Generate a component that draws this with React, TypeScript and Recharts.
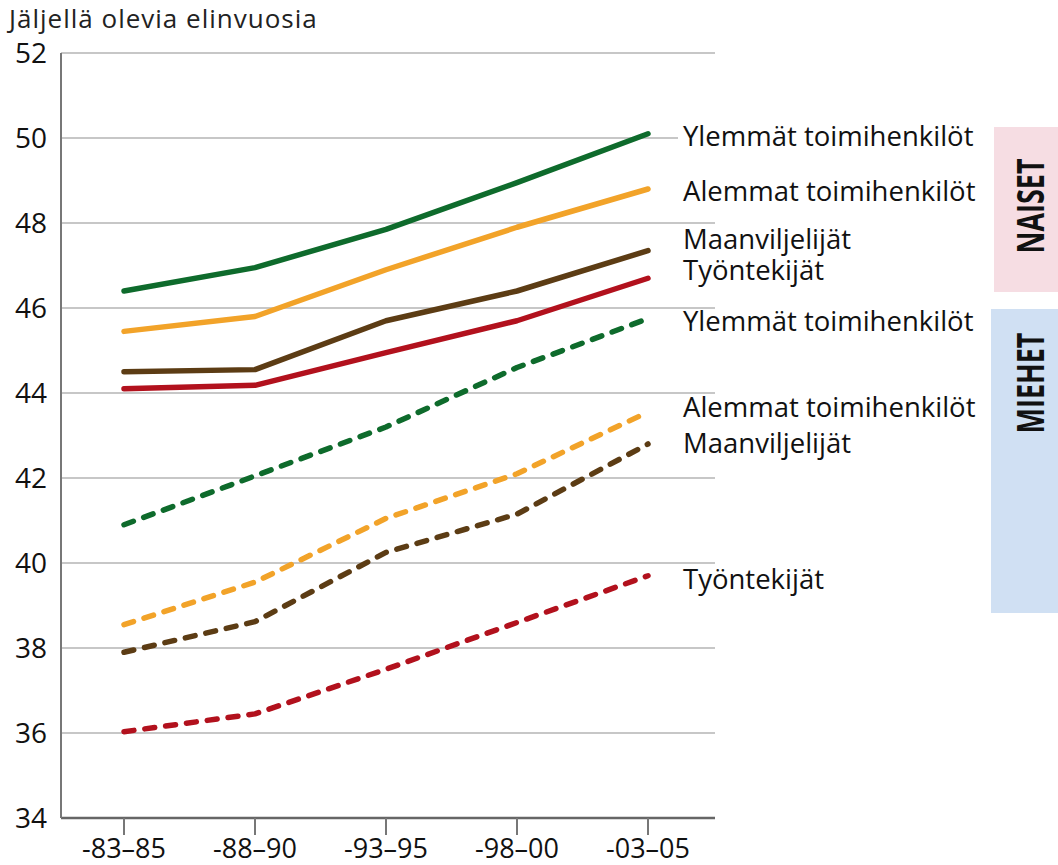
import React from 'react';
import { LineChart, Line, XAxis, YAxis, CartesianGrid } from 'recharts';

// periods on the x axis and y ticks
const PERIODS = ['-83–85', '-88–90', '-93–95', '-98–00', '-03–05'];
const Y_TICKS = [34, 36, 38, 40, 42, 44, 46, 48, 50, 52];

// women (solid)
const NAISET_YLEMMAT = [46.4, 46.95, 47.85, 48.95, 50.1];
const NAISET_ALEMMAT = [45.45, 45.8, 46.9, 47.9, 48.8];
const NAISET_MAANVILJ = [44.5, 44.55, 45.7, 46.4, 47.35];
const NAISET_TYONTEK = [44.1, 44.18, 44.95, 45.7, 46.7];

// men (dashed)
const MIEHET_YLEMMAT = [40.9, 42.05, 43.2, 44.6, 45.75];
const MIEHET_ALEMMAT = [38.55, 39.55, 41.05, 42.1, 43.55];
const MIEHET_MAANVILJ = [37.9, 38.62, 40.25, 41.15, 42.8];
const MIEHET_TYONTEK = [36.03, 36.45, 37.5, 38.6, 39.7];

const GREEN = '#0e6b2c';
const ORANGE = '#f2a329';
const BROWN = '#5c3c14';
const RED = '#b2111d';

const FONT = '"Open Sans", "DejaVu Sans", sans-serif';

const SERIES = [
  { key: 'nYl', name: 'Ylemmät toimihenkilöt', values: NAISET_YLEMMAT, color: GREEN, dashed: false, dy: 2, bg: true },
  { key: 'nAl', name: 'Alemmat toimihenkilöt', values: NAISET_ALEMMAT, color: ORANGE, dashed: false, dy: 1 },
  { key: 'nMa', name: 'Maanviljelijät', values: NAISET_MAANVILJ, color: BROWN, dashed: false, dy: -12 },
  { key: 'nTy', name: 'Työntekijät', values: NAISET_TYONTEK, color: RED, dashed: false, dy: -9 },
  { key: 'mYl', name: 'Ylemmät toimihenkilöt', values: MIEHET_YLEMMAT, color: GREEN, dashed: true, dy: 2 },
  { key: 'mAl', name: 'Alemmat toimihenkilöt', values: MIEHET_ALEMMAT, color: ORANGE, dashed: true, dy: -6 },
  { key: 'mMa', name: 'Maanviljelijät', values: MIEHET_MAANVILJ, color: BROWN, dashed: true, dy: -2 },
  { key: 'mTy', name: 'Työntekijät', values: MIEHET_TYONTEK, color: RED, dashed: true, dy: 3 },
];

const data = PERIODS.map((period, i) => {
  const row: Record<string, string | number> = { period };
  SERIES.forEach((s) => {
    row[s.key] = s.values[i];
  });
  return row;
});

const endLabel = (s: (typeof SERIES)[number]) => (props: any) => {
  const { x, y, index } = props;
  if (index !== PERIODS.length - 1) return null;
  return (
    <g>
      {s.bg && <rect x={x + 30} y={y + s.dy - 14} width={310} height={28} fill="#fff" />}
      <text x={x + 35} y={y + s.dy} dominantBaseline="central" fontSize={27.5} fontFamily={FONT} fill="#111">
        {s.name}
      </text>
    </g>
  );
};

// tall narrow bold word, rotated
const SideWord: React.FC<{ cy: number; label: string }> = ({ cy, label }) => (
  <div
    style={{
      position: 'absolute',
      left: 1029 - 100,
      top: cy - 30,
      width: 200,
      height: 60,
      display: 'flex',
      alignItems: 'center',
      justifyContent: 'center',
      transform: 'rotate(-90deg) scaleX(0.71)',
      fontFamily: FONT,
      fontWeight: 700,
      fontSize: 38,
      color: '#111',
      whiteSpace: 'nowrap',
    }}
  >
    {label}
  </div>
);

export default function App() {
  return (
    <div style={{ position: 'absolute', left: 0, top: 0, width: 1058, height: 865, background: '#fff', overflow: 'hidden' }}>
      <div
        style={{
          position: 'absolute',
          left: 9,
          top: 0,
          fontFamily: FONT,
          fontSize: 26,
          letterSpacing: 1,
          color: '#222',
          whiteSpace: 'nowrap',
        }}
      >
        Jäljellä olevia elinvuosia
      </div>
      <div style={{ position: 'absolute', left: 994, top: 127, width: 64, height: 165, background: '#f6dde3' }} />
      <div style={{ position: 'absolute', left: 991, top: 309, width: 67, height: 304, background: '#d0e0f3' }} />
      <SideWord cy={206} label="NAISET" />
      <SideWord cy={383} label="MIEHET" />
      <div style={{ position: 'absolute', left: 0, top: 0 }}>
        <LineChart width={1058} height={865} data={data} margin={{ top: 53, right: 343, bottom: 0, left: 0 }}>
          <CartesianGrid horizontal vertical={false} stroke="#b4b4b4" strokeWidth={1.6} />
          <XAxis
            dataKey="period"
            type="category"
            padding={{ left: 63, right: 67 }}
            height={47}
            axisLine={{ stroke: '#666', strokeWidth: 2.5 }}
            tickLine={{ stroke: '#777', strokeWidth: 2 }}
            tickSize={17}
            tickMargin={4}
            tick={{ fontSize: 27, fill: '#111', fontFamily: FONT }}
            interval={0}
          />
          <YAxis
            type="number"
            domain={[34, 52]}
            ticks={Y_TICKS}
            width={61}
            axisLine={{ stroke: '#777', strokeWidth: 2 }}
            tickLine={false}
            tickSize={0}
            tickMargin={14}
            tick={{ fontSize: 28, fill: '#111', fontFamily: FONT }}
            interval={0}
          />
          {SERIES.map((s) => (
            <Line
              key={s.key}
              type="linear"
              dataKey={s.key}
              stroke={s.color}
              strokeWidth={5.5}
              strokeLinecap="round"
              strokeLinejoin="round"
              strokeDasharray={s.dashed ? '10 11' : undefined}
              dot={false}
              activeDot={false}
              isAnimationActive={false}
              label={endLabel(s)}
            />
          ))}
        </LineChart>
      </div>
    </div>
  );
}
